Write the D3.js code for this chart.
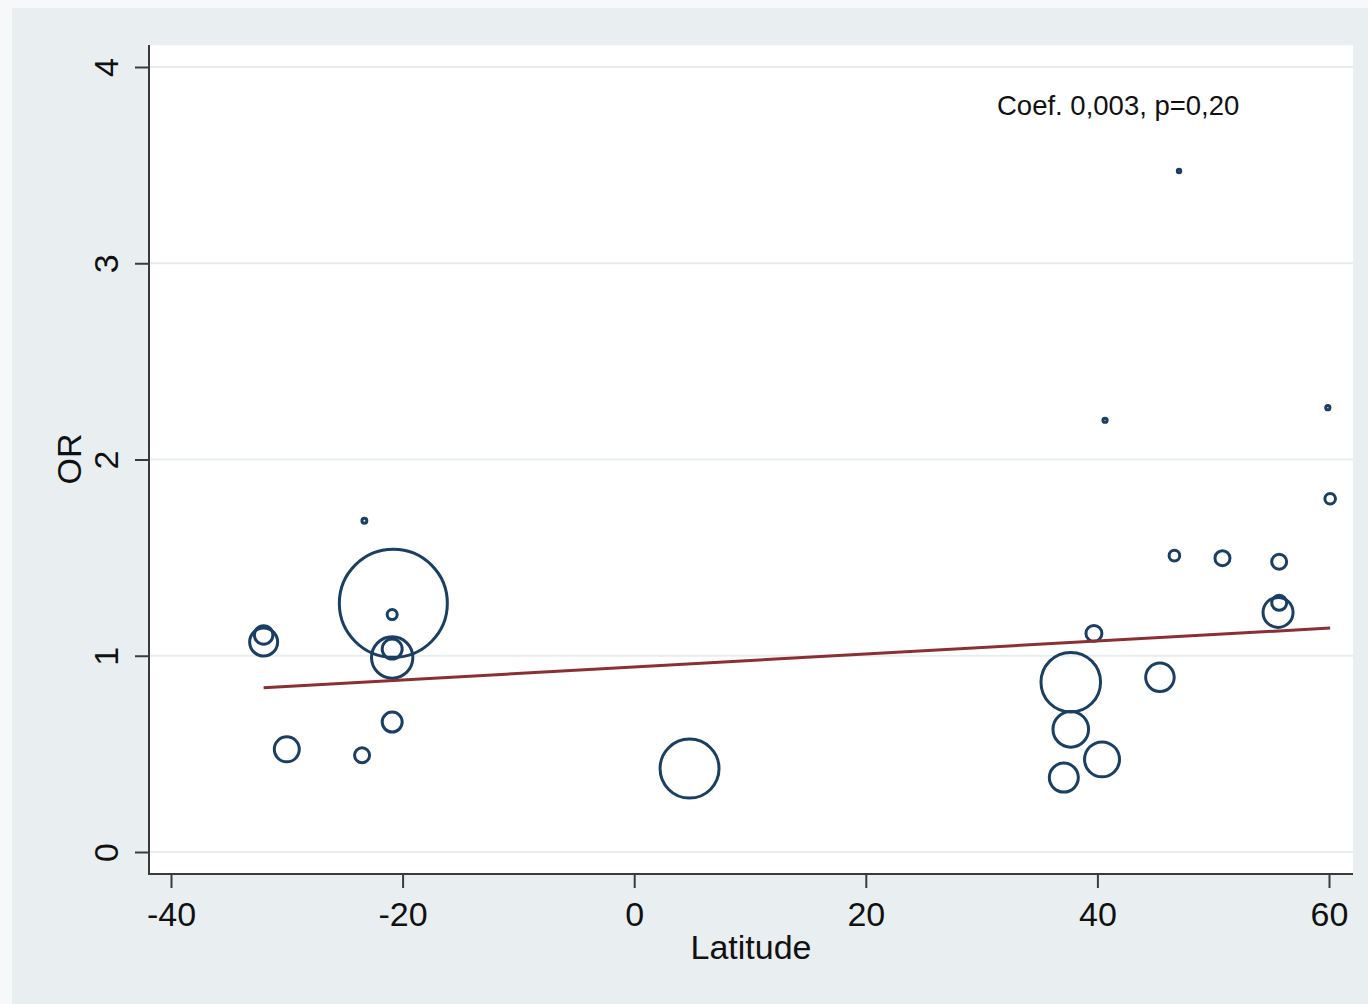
<!DOCTYPE html>
<html>
<head>
<meta charset="utf-8">
<script src="https://cdn.jsdelivr.net/npm/d3@7"></script>
<style>
  html, body { margin: 0; padding: 0; background: #f6f8f9; }
  svg { display: block; }
  text { font-family: "Liberation Sans", Arial, sans-serif; fill: #111; }
</style>
</head>
<body>
<script>
// Study-level data: latitude, odds ratio and study weight (%)
const latitude = [47.05, 40.66, 59.9, 60.1, -23.3, 46.65, 50.8, 55.7, 55.7, 55.6,
                  -20.8, -20.9, -32.0, -32.0, -20.9, -20.9, -20.9, -30.0, -23.5, 4.78,
                  39.7, 37.7, 37.7, 40.4, 37.1, 45.4];
const oddsRatio = [3.47, 2.20, 2.264, 1.80, 1.688, 1.51, 1.497, 1.479, 1.27, 1.221,
                   1.267, 1.21, 1.106, 1.07, 1.034, 0.991, 0.662, 0.523, 0.493, 0.425,
                   1.114, 0.865, 0.625, 0.472, 0.379, 0.890];
const weight = [0.04, 0.06, 0.06, 0.38, 0.08, 0.38, 0.76, 0.76, 0.76, 3.04,
                39.4, 0.34, 1.16, 2.65, 1.35, 5.78, 1.35, 2.11, 0.76, 11.75,
                0.86, 11.99, 4.28, 4.13, 2.84, 2.75];

// Meta-regression fit: OR = intercept + slope * latitude
const fitIntercept = 0.943;
const fitSlope = 0.0033;
const annotation = "Coef. 0,003, p=0,20";

const xTicks = [-40, -20, 0, 20, 40, 60];
const yTicks = [0, 1, 2, 3, 4];
const xTitle = "Latitude";
const yTitle = "OR";

const W = 1368, H = 1004;
const plot = { left: 149, right: 1353, top: 45, bottom: 874 };

const svg = d3.select("body").append("svg").attr("width", W).attr("height", H);

// graph region background
svg.append("rect").attr("x", 12).attr("y", 8).attr("width", W - 12).attr("height", H - 8)
  .attr("fill", "#e9eff1");
// plot region
svg.append("rect").attr("x", plot.left).attr("y", plot.top)
  .attr("width", plot.right - plot.left).attr("height", plot.bottom - plot.top)
  .attr("fill", "#ffffff");

const x = d3.scaleLinear().domain([-40, 60]).range([171, 1329]);
const y = d3.scaleLinear().domain([0, 4]).range([852, 67]);
const r = d3.scaleSqrt().domain([0, 39.4]).range([0, 54]);

// horizontal grid lines
svg.append("g").selectAll("line").data(yTicks).join("line")
  .attr("x1", plot.left).attr("x2", plot.right)
  .attr("y1", d => y(d)).attr("y2", d => y(d))
  .attr("stroke", "#e8eded").attr("stroke-width", 2);

// bubbles
const pts = latitude.map((d, i) => ({ lat: d, or: oddsRatio[i], w: weight[i] }));
svg.append("g").selectAll("circle").data(pts).join("circle")
  .attr("cx", d => x(d.lat)).attr("cy", d => y(d.or)).attr("r", d => r(d.w))
  .attr("fill", "none").attr("stroke", "#1a3f63").attr("stroke-width", 3);

// fitted line over the observed latitude range
const latExtent = d3.extent(latitude);
svg.append("line")
  .attr("x1", x(latExtent[0])).attr("y1", y(fitIntercept + fitSlope * latExtent[0]))
  .attr("x2", x(latExtent[1])).attr("y2", y(fitIntercept + fitSlope * latExtent[1]))
  .attr("stroke", "#8c2f33").attr("stroke-width", 3);

// axes
const axisColor = "#3a3a3a";
const plain = d => String(d);
const gx = svg.append("g").attr("transform", `translate(0,${plot.bottom})`)
  .call(d3.axisBottom(x).tickValues(xTicks).tickFormat(plain)
    .tickSize(14).tickPadding(14).tickSizeOuter(0));
gx.select(".domain").attr("d", `M${plot.left - 1},0H${plot.right}`);
const gy = svg.append("g").attr("transform", `translate(${plot.left},0)`)
  .call(d3.axisLeft(y).tickValues(yTicks).tickFormat(plain).tickSize(14).tickSizeOuter(0));
gy.select(".domain").attr("d", `M0,${plot.top}V${plot.bottom}`);
[gx, gy].forEach(g => {
  g.selectAll(".domain, line").attr("stroke", axisColor).attr("stroke-width", 2);
  g.selectAll("text").style("font-size", "34px").attr("fill", "#111")
    .style("font-family", "'Liberation Sans', Arial, sans-serif");
});
gy.selectAll("text")
  .attr("transform", "rotate(-90)")
  .attr("x", 0).attr("y", -31).attr("dy", 0)
  .attr("text-anchor", "middle");

// axis titles
svg.append("text").attr("x", 751).attr("y", 959).attr("text-anchor", "middle")
  .style("font-size", "34px").text(xTitle);
svg.append("text").attr("transform", "translate(81,459) rotate(-90)")
  .attr("text-anchor", "middle").style("font-size", "34px").text(yTitle);

// annotation
svg.append("text").attr("x", 997).attr("y", 115).style("font-size", "27.5px").text(annotation);
</script>
</body>
</html>
